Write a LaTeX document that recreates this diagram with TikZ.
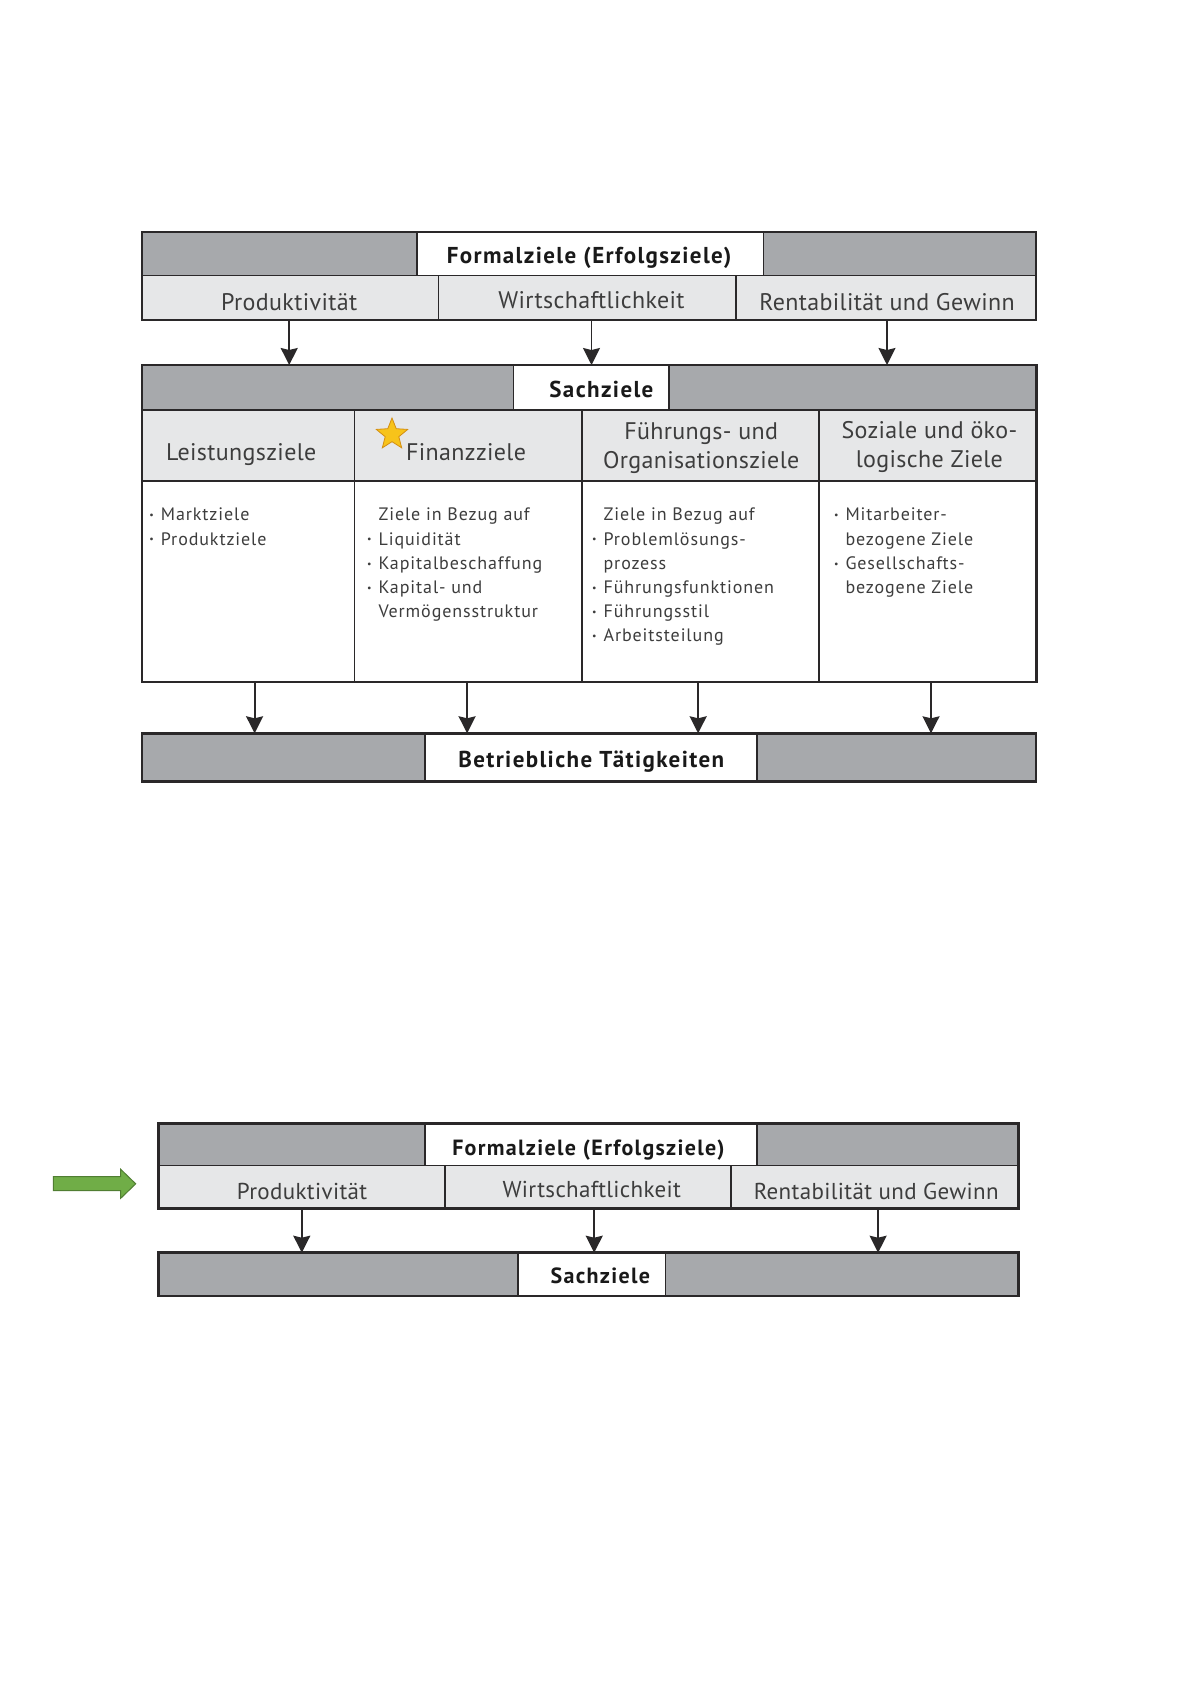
\documentclass[tikz,border=0pt]{standalone}
\usepackage{fontspec}
\setmainfont{PT Sans}
\usetikzlibrary{arrows.meta,shapes.geometric}
\definecolor{bargray}{HTML}{A7A9AC}
\definecolor{cellgray}{HTML}{E6E7E8}
\definecolor{rulegray}{HTML}{2A2829}
\definecolor{inkgray}{HTML}{3D3D3D}
\definecolor{stargold}{HTML}{F7C31A}
\definecolor{staredge}{HTML}{D38E12}
\definecolor{arrowgreen}{HTML}{70AD47}
\definecolor{arrowedge}{HTML}{507E32}
\newcommand{\bul}{\llap{\raisebox{0.25ex}{\scalebox{0.55}{\textbullet}}\hspace{7pt}}}
\tikzset{
  box/.style={draw=rulegray,line width=1.8pt,inner sep=0pt,outer sep=0pt,anchor=north west},
  graybar/.style={box,fill=bargray},
  greycell/.style={box,fill=cellgray},
  whitecell/.style={box,fill=white},
  outerframe/.style={draw=rulegray,line width=2.6pt},
  bartitle/.style={font=\fontsize{23}{26}\selectfont\bfseries\addfontfeature{LetterSpace=6},text=black!90,anchor=base,inner sep=0pt},
  headtext/.style={font=\fontsize{24}{29}\selectfont\addfontfeature{LetterSpace=1.5},text=inkgray,align=center,inner sep=0pt},
  listtext/.style={font=\fontsize{18}{24.2}\selectfont\addfontfeature{LetterSpace=5},text=inkgray,align=left,anchor=north west,inner sep=0pt},
  flow/.style={draw=rulegray,line width=1.8pt,-{Stealth[length=17pt,width=17pt,inset=2pt]}}
}
\begin{document}
\begin{tikzpicture}[x=1pt,y=-1pt]
\path[fill=white,use as bounding box] (0,0) rectangle (1191,1684);
\node[graybar,minimum width=894.1pt,minimum height=43.5pt] (formbar) at (142,232) {};
\node[whitecell,minimum width=346.8pt,minimum height=43.5pt] (form) at (416.7,232) {};
\node[bartitle] (formtxt) at (589.1,263.3) {Formalziele (Erfolgsziele)};
\node[greycell,minimum width=296.4pt,minimum height=44.5pt] (prod) at (142,275.5) {};
\node[greycell,minimum width=297.4pt,minimum height=44.5pt] (wirt) at (438.4,275.5) {};
\node[greycell,minimum width=300.3pt,minimum height=44.5pt] (rent) at (735.8,275.5) {};
\node[headtext,anchor=base] (prodtxt) at (289.2,310) {Produktivität};
\node[headtext,anchor=base] (wirttxt) at (591.5,308.7) {Wirtschaftlichkeit};
\node[headtext,anchor=base] (renttxt) at (887,310) {Rentabilität und Gewinn};
\draw[outerframe] (formbar.north west) rectangle (rent.south east);
\node[graybar,minimum width=894.1pt,minimum height=45pt] (sachbar) at (142,365) {};
\node[whitecell,minimum width=155.6pt,minimum height=45pt] (sach) at (513.5,365) {};
\node[bartitle] (sachtxt) at (601.4,397.3) {Sachziele};
\node[greycell,minimum width=212.4pt,minimum height=71pt] (leist) at (142,410) {};
\node[greycell,minimum width=227.2pt,minimum height=71pt] (fin) at (354.4,410) {};
\node[greycell,minimum width=237.1pt,minimum height=71pt] (fuehr) at (581.6,410) {};
\node[greycell,minimum width=217.4pt,minimum height=71pt] (sozial) at (818.8,410) {};
\node[headtext,anchor=base] (leisttxt) at (241.3,460.7) {Leistungsziele};
\node[headtext,anchor=base] (fintxt) at (466.1,460.7) {Finanzziele};
\node[headtext,anchor=north] (fuehrtxt) at (701.2,419) {\strut Führungs- und\\Organisationsziele};
\node[headtext,anchor=north] (soztxt) at (929.4,418) {\strut Soziale und öko-\\logische Ziele};
\node[star,star points=5,star point ratio=2.3,minimum size=33pt,inner sep=0pt,fill=stargold,draw=staredge,line width=0.8pt] (stern) at (392,434.5) {};
\node[whitecell,minimum width=212.4pt,minimum height=201pt] (leistcell) at (142,481) {};
\node[whitecell,minimum width=227.2pt,minimum height=201pt] (fincell) at (354.4,481) {};
\node[whitecell,minimum width=237.1pt,minimum height=201pt] (fuehrcell) at (581.6,481) {};
\node[whitecell,minimum width=217.4pt,minimum height=201pt] (sozcell) at (818.8,481) {};
\node[listtext] (leistlist) at (160.7,503.8) {\strut\bul Marktziele\\\bul Produktziele};
\node[listtext] (finlist) at (378.4,503.8) {\strut Ziele in Bezug auf\\\bul Liquidität\\\bul Kapitalbeschaffung\\\bul Kapital- und\\Vermögensstruktur};
\node[listtext] (fuehrlist) at (603.4,503.8) {\strut Ziele in Bezug auf\\\bul Problemlösungs-\\prozess\\\bul Führungsfunktionen\\\bul Führungsstil\\\bul Arbeitsteilung};
\node[listtext] (sozlist) at (845.3,503.8) {\strut\bul Mitarbeiter-\\bezogene Ziele\\\bul Gesellschafts-\\bezogene Ziele};
\draw[outerframe] (sachbar.north west) rectangle (sozcell.south east);
\node[graybar,minimum width=894.1pt,minimum height=48.4pt] (betrbar) at (142,733.3) {};
\node[whitecell,minimum width=332pt,minimum height=48.4pt] (betr) at (424.6,733.3) {};
\node[bartitle] (betrtxt) at (591.3,767.3) {Betriebliche Tätigkeiten};
\draw[outerframe] (betrbar.north west) rectangle (betrbar.south east);
\draw[flow] (prodtxt |- prod.south) -- (prodtxt |- sachbar.north);
\draw[flow] (wirttxt |- wirt.south) -- (wirttxt |- sachbar.north);
\draw[flow] (renttxt |- rent.south) -- (renttxt |- sachbar.north);
\draw[flow] ([xshift=6.4pt]leistcell.south) -- ([xshift=6.4pt]leistcell.south |- betrbar.north);
\draw[flow] ([xshift=-0.9pt]fincell.south) -- ([xshift=-0.9pt]fincell.south |- betrbar.north);
\draw[flow] ([xshift=-2pt]fuehrcell.south) -- ([xshift=-2pt]fuehrcell.south |- betrbar.north);
\draw[flow] ([xshift=3.5pt]sozcell.south) -- ([xshift=3.5pt]sozcell.south |- betrbar.north);
\node[graybar,minimum width=859.9pt,minimum height=42pt] (formbarb) at (158.5,1123.5) {};
\node[whitecell,minimum width=331.8pt,minimum height=42pt] (formb) at (425.2,1123.5) {};
\node[bartitle,font=\fontsize{22}{25}\selectfont\bfseries\addfontfeature{LetterSpace=6}] (formtxtb) at (588.4,1155) {Formalziele (Erfolgsziele)};
\node[greycell,minimum width=286.5pt,minimum height=43pt] (prodb) at (158.5,1165.5) {};
\node[greycell,minimum width=286.4pt,minimum height=43pt] (wirtb) at (444.9,1165.5) {};
\node[greycell,minimum width=287.1pt,minimum height=43pt] (rentb) at (731.3,1165.5) {};
\node[headtext,font=\fontsize{23}{28}\selectfont\addfontfeature{LetterSpace=1.5},anchor=base] (prodtxtb) at (302.1,1199.3) {Produktivität};
\node[headtext,font=\fontsize{23}{28}\selectfont\addfontfeature{LetterSpace=1.5},anchor=base] (wirttxtb) at (591.8,1197.3) {Wirtschaftlichkeit};
\node[headtext,font=\fontsize{23}{28}\selectfont\addfontfeature{LetterSpace=1.5},anchor=base] (renttxtb) at (876.2,1199.3) {Rentabilität und Gewinn};
\draw[outerframe] (formbarb.north west) rectangle (rentb.south east);
\node[graybar,minimum width=859.9pt,minimum height=43.3pt] (sachbarb) at (158.5,1252.7) {};
\node[whitecell,minimum width=147.8pt,minimum height=43.3pt] (sachb) at (517.7,1252.7) {};
\node[bartitle,font=\fontsize{22}{25}\selectfont\bfseries\addfontfeature{LetterSpace=6}] (sachtxtb) at (600.3,1283.3) {Sachziele};
\draw[outerframe] (sachbarb.north west) rectangle (sachbarb.south east);
\draw[flow] ([xshift=-0.3pt]prodtxtb |- prodb.south) -- ([xshift=-0.3pt]prodtxtb |- sachbarb.north);
\draw[flow] ([xshift=2.4pt]wirttxtb |- wirtb.south) -- ([xshift=2.4pt]wirttxtb |- sachbarb.north);
\draw[flow] ([xshift=1.9pt]renttxtb |- rentb.south) -- ([xshift=1.9pt]renttxtb |- sachbarb.north);
\path[fill=arrowgreen,draw=arrowedge,line width=1pt] (53.3,1176.7) -- (120.7,1176.7) -- (120.7,1169.3) -- (135.7,1183.8) -- (120.7,1198.3) -- (120.7,1190.7) -- (53.3,1190.7) -- cycle;
\end{tikzpicture}
\end{document}
